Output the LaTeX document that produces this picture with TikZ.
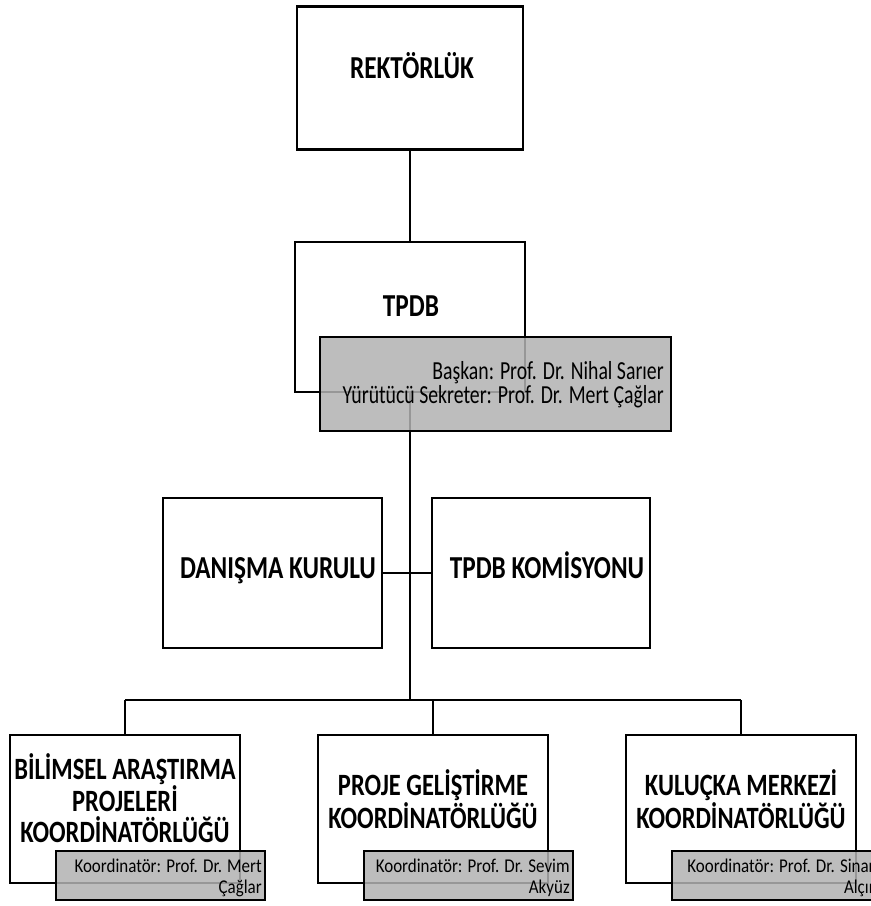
\documentclass[tikz,border=0pt]{standalone}
\usepackage{fontspec}
\setmainfont{Carlito}
\newfontfamily\headfont{Carlito}[FakeStretch=0.79]
\newfontfamily\namefont{Carlito}[FakeStretch=0.76]
\newfontfamily\coordfont{Carlito}[FakeStretch=0.87]

\begin{document}
\begin{tikzpicture}[x=1pt,y=-1pt,line width=2.6pt,draw=black]
    \tikzstyle{unit}=[rectangle,draw,fill=white,inner sep=0pt]
    \tikzstyle{title}=[font=\headfont\fontsize{32}{30.5}\selectfont\bfseries,align=center,inner sep=0pt,anchor=base]
    \tikzstyle{subtitle}=[title,font=\headfont\fontsize{31}{30.5}\selectfont\bfseries]
    \tikzstyle{info}=[rectangle,draw,fill=black!30,fill opacity=0.85,inner sep=0pt]
    \tikzstyle{names}=[align=right,inner sep=0pt,anchor=base east,font=\namefont\fontsize{26}{21.5}\selectfont]
    \tikzstyle{coordnames}=[names,font=\coordfont\fontsize{19.5}{21}\selectfont]

    \clip (0,0) rectangle (871,906);

    %%% DRAW THE BOXES
    \node[unit,minimum width=226pt,minimum height=143pt] (rek) at (410,78) {};
    \node[unit,minimum width=230pt,minimum height=150pt] (tpdb) at (410,317) {};
    \node[unit,minimum width=219pt,minimum height=150pt] (danisma) at (272.5,573) {};
    \node[unit,minimum width=218pt,minimum height=150pt] (komisyon) at (541,573) {};
    \foreach \name/\x in {bilim/125,proje/433,kulucka/741}
        \node[unit,minimum width=230pt,minimum height=148pt] (\name) at (\x,809) {};

    %%% TITLES (base = baseline of the last line)
    \node[title] (rek-t) at (412,78) {REKTÖRLÜK};
    \node[title] (tpdb-t) at (411,316.5) {TPDB};
    \node[title] (danisma-t) at (278,578) {DANIŞMA KURULU};
    \node[title] (komisyon-t) at (547,578) {TPDB KOMİSYONU};
    \node[subtitle] (bilim-t) at (125,842) {BİLİMSEL ARAŞTIRMA\\PROJELERİ\\KOORDİNATÖRLÜĞÜ};
    \node[subtitle] (proje-t) at (433,828) {PROJE GELİŞTİRME\\KOORDİNATÖRLÜĞÜ};
    \node[subtitle] (kulucka-t) at (741,828) {KULUÇKA MERKEZİ\\KOORDİNATÖRLÜĞÜ};

    %%% DRAW THE PATHS
    \coordinate (bus) at (410,700);
    \draw (rek.south) -- (tpdb.north);
    \draw (tpdb.south) -- (bus);
    \draw (danisma.east) -- (komisyon.west);
    \draw (bilim.north |- bus) -- (kulucka.north |- bus);
    \foreach \name in {bilim,proje,kulucka}
        \draw (\name.north |- bus) -- (\name.north);

    %%% PEOPLE
    \node[info,minimum width=351pt,minimum height=94pt] (tpdb-info) at (495.5,384) {};
    \foreach \name/\x in {bilim/160.5,proje/468.5,kulucka/776.5}
        \node[info,minimum width=209pt,minimum height=49pt] (\name-info) at (\x,875.5) {};

    \node[names] (tpdb-names) at (665,403) {Başkan: Prof. Dr. Nihal Sarıer\\Yürütücü Sekreter: Prof. Dr. Mert Çağlar};
    \node[coordnames] (bilim-names) at (263,893) {Koordinatör: Prof. Dr. Mert\\Çağlar};
    \node[coordnames] (proje-names) at (571,893) {Koordinatör: Prof. Dr. Sevim\\Akyüz};
    \node[coordnames] (kulucka-names) at (879,893) {Koordinatör: Prof. Dr. Sinan\\Alçın};

\end{tikzpicture}
\end{document}
